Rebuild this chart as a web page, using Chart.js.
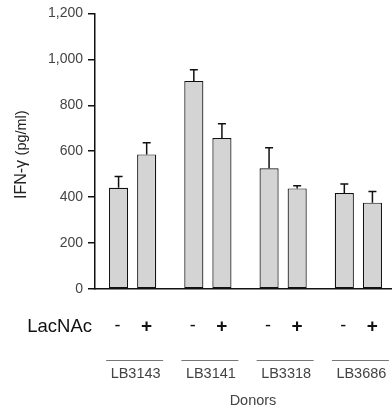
<!DOCTYPE html>
<html lang="en">
<head>
    <meta charset="UTF-8">
    <title>IFN-gamma by donor</title>
    <style>
        html, body { margin: 0; padding: 0; overflow: hidden; background: #fff; }
        .wrap { width: 397px; height: 411px; }
    </style>
</head>
<body>
    <div class="wrap">
        <canvas id="myChart" width="397" height="411"></canvas>
    </div>
    <script src="https://cdn.jsdelivr.net/npm/chart.js"></script>
    <script>
        // data
        const donors = ['LB3143', 'LB3141', 'LB3318', 'LB3686'];
        const withoutLacNAc = [441, 906, 526, 418];
        const withLacNAc = [586, 657, 438, 376];
        const errWithout = [49, 49, 89, 39];
        const errWith = [51, 63, 12, 49];
        const yTicks = [0, 200, 400, 600, 800, 1000, 1200];

        const FONT = 'Helvetica, Arial, "Liberation Sans", sans-serif';

        // error bars on top of each bar
        const errorBars = {
            id: 'errorBars',
            afterDatasetsDraw(chart) {
                const c = chart.ctx;
                const y = chart.scales.y;
                c.save();
                c.strokeStyle = '#111';
                c.lineWidth = 1.5;
                chart.data.datasets.forEach((ds, di) => {
                    const meta = chart.getDatasetMeta(di);
                    meta.data.forEach((bar, i) => {
                        const top = y.getPixelForValue(ds.data[i] + ds.errors[i]);
                        c.beginPath();
                        c.moveTo(bar.x, bar.y);
                        c.lineTo(bar.x, top);
                        c.moveTo(bar.x - 4, top);
                        c.lineTo(bar.x + 4, top);
                        c.stroke();
                    });
                });
                c.restore();
            }
        };

        // axis title, LacNAc row, donor labels
        const annotations = {
            id: 'annotations',
            afterDraw(chart) {
                const c = chart.ctx;
                const xs = chart.scales.x;
                const area = chart.chartArea;
                c.save();

                // y title with mixed sizes
                c.translate(25.5, 199);
                c.rotate(-Math.PI / 2);
                c.fillStyle = '#222';
                c.textAlign = 'left';
                c.textBaseline = 'alphabetic';
                c.font = '16px ' + FONT;
                c.fillText('IFN-γ', 0, 0);
                const w = c.measureText('IFN-γ ').width;
                c.font = '14.5px ' + FONT;
                c.fillText('(pg/ml)', w, 0);
                c.setTransform(1, 0, 0, 1, 0, 0);

                // LacNAc row
                c.fillStyle = '#111';
                c.textBaseline = 'middle';
                c.textAlign = 'right';
                c.font = '18.5px ' + FONT;
                c.fillText('LacNAc', 92, 327);
                c.textAlign = 'center';
                const m0 = chart.getDatasetMeta(0);
                const m1 = chart.getDatasetMeta(1);
                donors.forEach((d, i) => {
                    c.font = '18px ' + FONT;
                    c.fillText('-', m0.data[i].x - 1, 326);
                    c.font = 'bold 19px ' + FONT;
                    c.fillText('+', m1.data[i].x, 327);
                });

                // donor labels with lines above
                c.strokeStyle = '#777';
                c.lineWidth = 1;
                c.fillStyle = '#444';
                c.font = '14.5px ' + FONT;
                donors.forEach((d, i) => {
                    const cx = xs.getPixelForValue(i) + 2;
                    c.beginPath();
                    c.moveTo(cx - 28.5, 360.5);
                    c.lineTo(cx + 28.5, 360.5);
                    c.stroke();
                    c.fillText(d, cx + 1, 374);
                });
                c.fillText('Donors', (area.left + area.right) / 2 + 7.5, 401);
                c.restore();
            }
        };

        const ctx = document.getElementById('myChart').getContext('2d');
        const myChart = new Chart(ctx, {
            type: 'bar',
            data: {
                labels: donors,
                datasets: [{
                    label: '-',
                    data: withoutLacNAc,
                    errors: errWithout,
                    backgroundColor: '#d4d4d4',
                    borderColor: '#111',
                    borderWidth: 1.2,
                    borderSkipped: false
                }, {
                    label: '+',
                    data: withLacNAc,
                    errors: errWith,
                    backgroundColor: '#d4d4d4',
                    borderColor: '#111',
                    borderWidth: 1.2,
                    borderSkipped: false
                }]
            },
            options: {
                responsive: false,
                animation: false,
                events: [],
                categoryPercentage: 0.7467,
                barPercentage: 0.68,
                layout: {
                    padding: { left: 0, right: 1, top: 11.5, bottom: 102 }
                },
                plugins: {
                    legend: { display: false },
                    tooltip: { enabled: false }
                },
                scales: {
                    x: {
                        grid: { display: false },
                        ticks: { display: false },
                        border: { display: true, color: '#111', width: 1.5 },
                        afterFit: s => { s.height = 20 }
                    },
                    y: {
                        min: 0,
                        max: 1200,
                        afterBuildTicks: s => { s.ticks = yTicks.map(v => ({ value: v })) },
                        ticks: {
                            color: '#444',
                            font: { family: FONT, size: 14 },
                            padding: 5
                        },
                        grid: {
                            drawOnChartArea: false,
                            drawTicks: true,
                            tickLength: 7,
                            color: '#111',
                            lineWidth: 1.5
                        },
                        border: { display: true, color: '#111', width: 1.5 },
                        afterFit: s => { s.width = 95 }
                    }
                }
            },
            plugins: [errorBars, annotations]
        });
    </script>
</body>
</html>
